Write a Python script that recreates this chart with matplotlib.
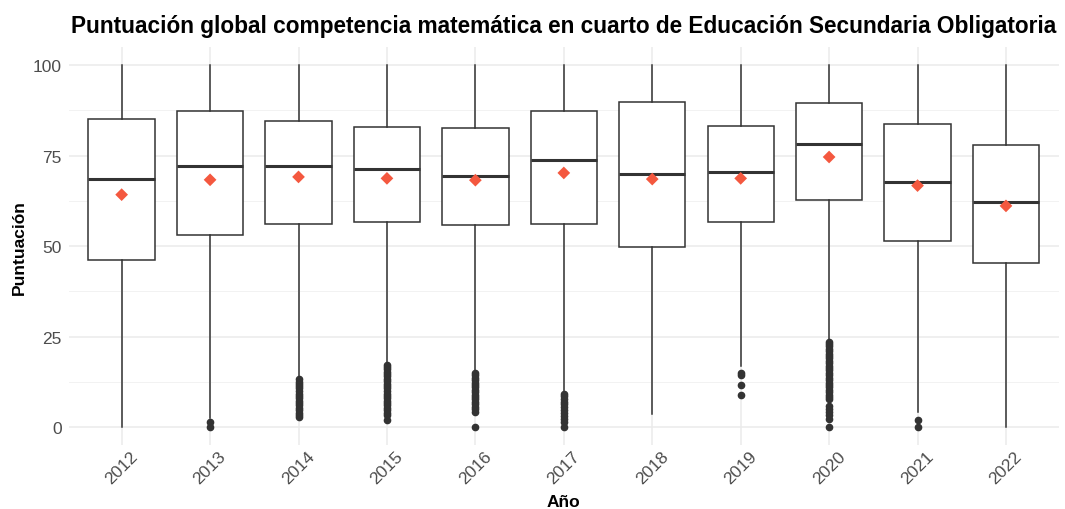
import matplotlib
matplotlib.use("Agg")
import matplotlib.pyplot as plt

plt.rcParams["font.family"] = ["Liberation Sans", "DejaVu Sans"]

# Yearly score summaries
years = ["2012", "2013", "2014", "2015", "2016", "2017", "2018", "2019", "2020", "2021", "2022"]
q1 = [46.2, 53.1, 56.1, 56.7, 55.7, 56.1, 49.8, 56.7, 62.7, 51.3, 45.4]
median = [68.5, 72.1, 72.2, 71.2, 69.4, 73.8, 69.8, 70.4, 78.3, 67.7, 62.2]
q3 = [85.0, 87.3, 84.5, 82.9, 82.7, 87.2, 89.8, 83.2, 89.4, 83.6, 77.9]
whisker_low = [0.0, 2.5, 13.6, 17.5, 15.3, 9.5, 3.6, 17.0, 23.8, 4.1, 0.0]
whisker_high = [100, 100, 100, 100, 100, 100, 100, 100, 100, 100, 100]
mean = [64.2, 68.3, 69.1, 68.7, 68.2, 70.2, 68.5, 68.7, 74.6, 66.7, 61.1]

outliers_2012 = []
outliers_2013 = [1.5, 0.0]
outliers_2014 = [13.3, 12.6, 12.0, 11.3, 10.7, 10.0, 9.3, 8.7, 8.0, 7.3, 6.7,
                 6.0, 5.3, 4.7, 4.0, 3.3, 2.8]
outliers_2015 = [17.2, 16.7, 16.0, 15.3, 14.7, 14.0, 13.3, 12.7, 12.0, 11.3,
                 10.7, 10.0, 9.3, 8.7, 8.0, 7.3, 6.7, 6.0, 5.3, 4.7, 4.0,
                 3.3, 2.1]
outliers_2016 = [15.0, 14.3, 13.7, 13.0, 12.3, 11.7, 11.0, 10.3, 9.7, 9.0,
                 8.3, 7.7, 7.0, 6.3, 5.7, 5.0, 4.1, 0.0]
outliers_2017 = [9.2, 8.5, 7.8, 7.0, 6.3, 5.6, 4.8, 4.0, 3.2, 2.2, 1.3, 0.0]
outliers_2018 = []
outliers_2019 = [15.0, 14.3, 11.6, 9.0]
outliers_2020 = [23.6, 23.0, 22.3, 21.7, 21.0, 20.3, 19.7, 19.0, 18.3, 17.7,
                 17.0, 16.3, 15.7, 15.0, 14.3, 13.7, 13.0, 12.3, 11.7, 11.0,
                 10.3, 9.7, 9.0, 8.3, 7.8, 5.9, 5.0, 4.2, 3.3, 2.3, 0.0]
outliers_2021 = [2.1, 0.0]
outliers_2022 = []

outliers = [outliers_2012, outliers_2013, outliers_2014, outliers_2015,
            outliers_2016, outliers_2017, outliers_2018, outliers_2019,
            outliers_2020, outliers_2021, outliers_2022]

y_ticks = [0, 25, 50, 75, 100]

stats = []
for i, year in enumerate(years):
    stats.append({
        "label": year,
        "q1": q1[i],
        "med": median[i],
        "q3": q3[i],
        "whislo": whisker_low[i],
        "whishi": whisker_high[i],
        "fliers": outliers[i],
    })

edge = "#333333"
fig = plt.figure(figsize=(10.65, 5.10), dpi=100)
ax = fig.add_axes([0.0644, 0.1249, 0.9300, 0.7812])

positions = list(range(1, len(years) + 1))
ax.bxp(
    stats,
    positions=positions,
    widths=0.75,
    patch_artist=True,
    showcaps=False,
    boxprops=dict(facecolor="white", edgecolor=edge, linewidth=1.1),
    whiskerprops=dict(color=edge, linewidth=1.1),
    medianprops=dict(color=edge, linewidth=2.2, solid_capstyle="butt"),
    flierprops=dict(marker="o", markerfacecolor=edge, markeredgecolor=edge,
                    markersize=4.5, linestyle="none"),
    zorder=3,
)

ax.scatter(positions, mean, marker="D", s=42, color="#F4583F",
           edgecolors="none", zorder=4)

ax.set_xlim(0.4, len(years) + 0.6)
ax.set_ylim(-5, 105)
ax.set_yticks(y_ticks)
ax.set_yticks([12.5, 37.5, 62.5, 87.5], minor=True)
ax.set_xticks(positions)
ax.set_xticklabels(years)

ax.grid(which="major", color="#EBEBEB", linewidth=1.1, zorder=0)
ax.grid(which="minor", axis="y", color="#F2F2F2", linewidth=0.7, zorder=0)
ax.set_axisbelow(True)
for s in ax.spines.values():
    s.set_visible(False)

ax.tick_params(axis="both", which="both", length=0)
ax.tick_params(axis="y", labelsize=12.5, labelcolor="#4D4D4D", pad=5)
ax.tick_params(axis="x", labelsize=12.5, labelcolor="#4D4D4D", pad=2)
for lbl in ax.get_xticklabels():
    lbl.set_rotation(45)
    lbl.set_ha("center")
    lbl.set_va("top")

ax.set_title("Puntuación global competencia matemática en cuarto de Educación Secundaria Obligatoria",
             fontsize=16.3, fontweight="bold", color="black", pad=11)
ax.set_xlabel("Año", fontsize=12.5, fontweight="bold", color="black")
ax.set_ylabel("Puntuación", fontsize=12.5, fontweight="bold", color="black")
ax.xaxis.set_label_coords(0.5, -0.140)
ax.yaxis.set_label_coords(-0.050, 0.5)
ax.xaxis.label.set_va("center")
ax.yaxis.label.set_va("center")

fig.savefig("out.png", dpi=100, facecolor="white")
